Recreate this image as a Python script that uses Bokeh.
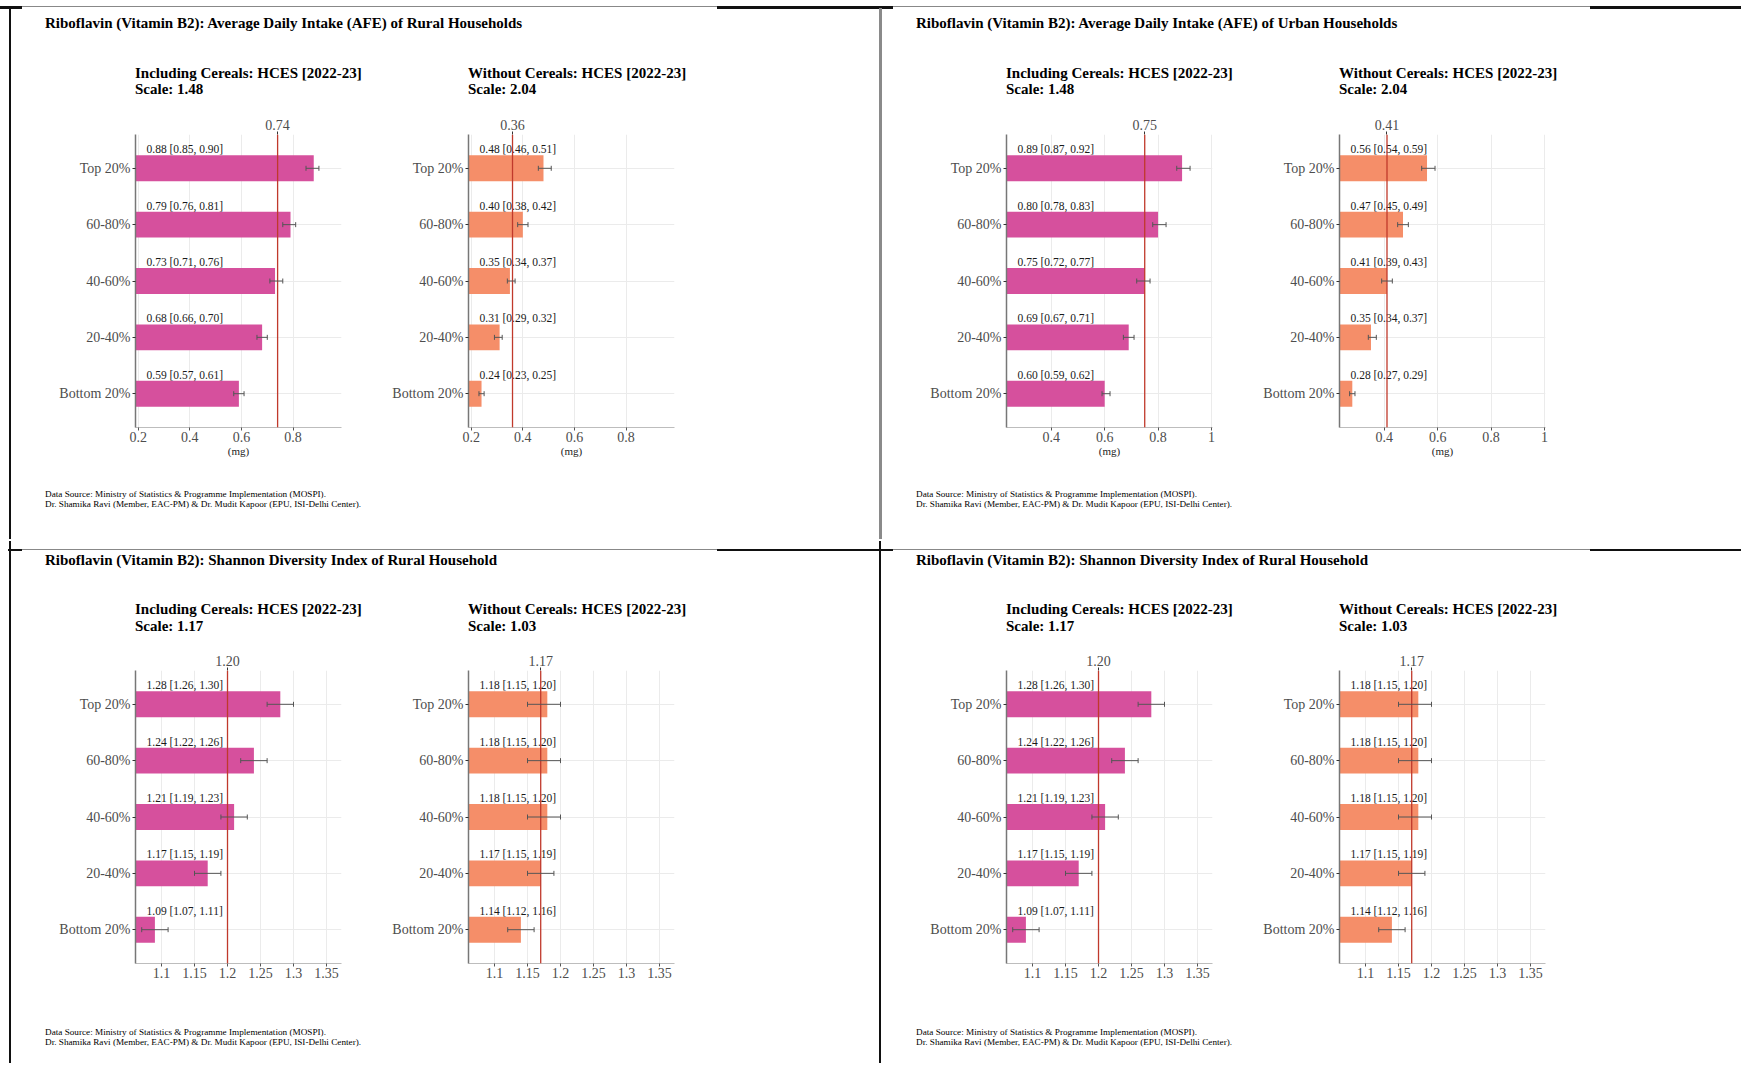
import html
from bokeh.plotting import figure
from bokeh.models import (FactorRange, Range1d, FixedTicker, LinearAxis, NumeralTickFormatter,
                          CustomJSTickFormatter, Span, Whisker, TeeHead, ColumnDataSource, Div)
from bokeh.layouts import row, column
from bokeh.core.properties import value
from bokeh.embed import file_html
from bokeh.resources import INLINE

# ---------------- data ----------------
categories = ["Bottom 20%", "20-40%", "40-60%", "60-80%", "Top 20%"]

rural_incl_val = [0.59, 0.68, 0.73, 0.79, 0.88]
rural_incl_lo = [0.57, 0.66, 0.71, 0.76, 0.85]
rural_incl_hi = [0.61, 0.70, 0.76, 0.81, 0.90]
rural_incl_mean = 0.74

rural_excl_val = [0.24, 0.31, 0.35, 0.40, 0.48]
rural_excl_lo = [0.23, 0.29, 0.34, 0.38, 0.46]
rural_excl_hi = [0.25, 0.32, 0.37, 0.42, 0.51]
rural_excl_mean = 0.36

urban_incl_val = [0.60, 0.69, 0.75, 0.80, 0.89]
urban_incl_lo = [0.59, 0.67, 0.72, 0.78, 0.87]
urban_incl_hi = [0.62, 0.71, 0.77, 0.83, 0.92]
urban_incl_mean = 0.75

urban_excl_val = [0.28, 0.35, 0.41, 0.47, 0.56]
urban_excl_lo = [0.27, 0.34, 0.39, 0.45, 0.54]
urban_excl_hi = [0.29, 0.37, 0.43, 0.49, 0.59]
urban_excl_mean = 0.41

shannon_incl_val = [1.09, 1.17, 1.21, 1.24, 1.28]
shannon_incl_lo = [1.07, 1.15, 1.19, 1.22, 1.26]
shannon_incl_hi = [1.11, 1.19, 1.23, 1.26, 1.30]
shannon_incl_mean = 1.20

shannon_excl_val = [1.14, 1.17, 1.18, 1.18, 1.18]
shannon_excl_lo = [1.12, 1.15, 1.15, 1.15, 1.15]
shannon_excl_hi = [1.16, 1.19, 1.20, 1.20, 1.20]
shannon_excl_mean = 1.17

scale_afe = ["1.48", "2.04"]
scale_shannon = ["1.17", "1.03"]

rural_ticks = [0.2, 0.4, 0.6, 0.8]
rural_tick_labels = ["0.2", "0.4", "0.6", "0.8"]
urban_ticks = [0.4, 0.6, 0.8, 1.0]
urban_tick_labels = ["0.4", "0.6", "0.8", "1"]
shannon_ticks = [1.1, 1.15, 1.2, 1.25, 1.3, 1.35]
shannon_tick_labels = ["1.1", "1.15", "1.2", "1.25", "1.3", "1.35"]

title_rural = "Riboflavin (Vitamin B2): Average Daily Intake (AFE) of Rural Households"
title_urban = "Riboflavin (Vitamin B2): Average Daily Intake (AFE) of Urban Households"
title_shannon = "Riboflavin (Vitamin B2): Shannon Diversity Index of Rural Household"
sub_incl = "Including Cereals: HCES [2022-23]"
sub_excl = "Without Cereals: HCES [2022-23]"
foot1 = "Data Source: Ministry of Statistics & Programme Implementation (MOSPI)."
foot2 = "Dr. Shamika Ravi (Member, EAC-PM) & Dr. Mudit Kapoor (EPU, ISI-Delhi Center)."

# ---------------- style ----------------
SERIF = "Liberation Serif"
INCL_COLOR = "#D6509D"
EXCL_COLOR = "#F58E69"
MEAN_COLOR = "#C0392B"
TICK_COLOR = "#4d4d4d"

RURAL_X = (0.1895, 0.9875)
URBAN_X = (0.232, 1.004)
SHANNON_X = (1.0606, 1.3727)


def text_block(w, h, items):
    parts = []
    for (x, cy, txt, fs, bold) in items:
        lh = round(fs * 1.2)
        parts.append(
            f'<div style="position:absolute;left:{x}px;top:{cy - lh / 2:.1f}px;height:{lh}px;'
            f'line-height:{lh}px;font-family:\'{SERIF}\';font-size:{fs}px;'
            f'font-weight:{"bold" if bold else "normal"};color:#000;white-space:nowrap;'
            f'margin:0;padding:0">{html.escape(txt)}</div>')
    inner = (f'<div style="position:relative;width:{w}px;height:{h}px;margin:0;padding:0;overflow:visible">'
             + "".join(parts) + '</div>')
    return Div(text=inner, width=w, height=h, margin=0)


def color_box(w, h, items):
    parts = []
    for (x, y, ww, hh, c) in items:
        parts.append(f'<div style="position:absolute;left:{x}px;top:{y}px;width:{ww}px;height:{hh}px;background:{c}"></div>')
    inner = f'<div style="position:relative;width:{w}px;height:{h}px;margin:0;padding:0">' + "".join(parts) + '</div>'
    return Div(text=inner, width=w, height=h, margin=0)


def panel(vals, lo, hi, mean, xr, ticks, tick_labels, color, xlabel, first, right_border, bottom_border):
    src = ColumnDataSource(dict(
        cat=categories, val=vals, lo=lo, hi=hi,
        lab=[f"{v:.2f} [{a:.2f}, {b:.2f}]" for v, a, b in zip(vals, lo, hi)]))
    p = figure(y_range=FactorRange(factors=categories, range_padding=0.1, range_padding_units="absolute"),
               x_range=Range1d(xr[0], xr[1]), frame_width=206, frame_height=293,
               min_border_left=124 if first else 90, min_border_right=right_border,
               min_border_top=24, min_border_bottom=bottom_border,
               output_backend="svg", toolbar_location=None, tools="", margin=0)
    p.outline_line_color = None
    p.background_fill_color = "white"
    p.border_fill_color = "white"

    p.xgrid.grid_line_color = "#ebebeb"
    p.ygrid.grid_line_color = "#ebebeb"

    p.hbar(y="cat", left=0, right="val", height=0.46, source=src,
           fill_color=color, line_color=None)

    p.add_layout(Span(location=mean, dimension="height", line_color=MEAN_COLOR, line_width=1.3))

    p.add_layout(Whisker(base="cat", lower="lo", upper="hi", dimension="width", source=src,
                         level="annotation", line_color="#555555", line_width=1,
                         upper_head=TeeHead(size=5, line_color="#555555", line_width=1),
                         lower_head=TeeHead(size=5, line_color="#555555", line_width=1)))

    p.text(x=xr[0], y="cat", text="lab", source=src, x_offset=11, y_offset=-19,
           text_font=value(SERIF), text_font_size="11.5px", text_color="#1a1a1a",
           text_align="left", text_baseline="middle")

    xa = p.xaxis[0]
    xa.ticker = FixedTicker(ticks=ticks)
    xa.formatter = CustomJSTickFormatter(code="return String(Math.round(tick*1000)/1000)")
    xa.major_label_overrides = {t: l for t, l in zip(ticks, tick_labels)}
    xa.major_label_text_font = SERIF
    xa.major_label_text_font_size = "14px"
    xa.major_label_text_color = TICK_COLOR
    xa.major_label_standoff = 1
    xa.major_tick_out = 3
    xa.major_tick_in = 0
    xa.major_tick_line_color = "#555555"
    xa.minor_tick_line_color = None
    xa.axis_line_color = "#bdbdbd"
    if xlabel:
        xa.axis_label = xlabel
        xa.axis_label_text_font = SERIF
        xa.axis_label_text_font_size = "11px"
        xa.axis_label_text_font_style = "normal"
        xa.axis_label_text_color = "#222222"
        xa.axis_label_standoff = 0

    ya = p.yaxis[0]
    ya.major_label_text_font = SERIF
    ya.major_label_text_font_size = "14px"
    ya.major_label_text_color = TICK_COLOR
    ya.major_label_standoff = 2
    ya.major_tick_out = 3
    ya.major_tick_in = 0
    ya.major_tick_line_color = "#333333"
    ya.axis_line_color = "#777777"
    ya.axis_line_width = 1.5

    top = LinearAxis(ticker=FixedTicker(ticks=[mean]), formatter=NumeralTickFormatter(format="0.00"),
                     axis_line_color=None, major_tick_out=3, major_tick_in=0,
                     major_tick_line_color="#333333", minor_tick_line_color=None,
                     major_label_standoff=2, major_label_text_font=SERIF,
                     major_label_text_font_size="14px", major_label_text_color=TICK_COLOR)
    p.add_layout(top, "above")
    return p


def quadrant(width, header_h, footer_h, title, title_cy, sub_cy, scales, left_data, right_data,
             xr, ticks, tick_labels, xlabel, bottom_border, foot_cy):
    header = text_block(width, header_h, [
        (34, title_cy, title, 15, True),
        (124, sub_cy[0], sub_incl, 15, True),
        (124, sub_cy[1], "Scale: " + scales[0], 15, True),
        (457, sub_cy[0], sub_excl, 15, True),
        (457, sub_cy[1], "Scale: " + scales[1], 15, True),
    ])
    p1 = panel(*left_data, xr, ticks, tick_labels, INCL_COLOR, xlabel, True, 37, bottom_border)
    p2 = panel(*right_data, xr, ticks, tick_labels, EXCL_COLOR, xlabel, False,
               width - 367 - 296, bottom_border)
    footer = text_block(width, footer_h, [
        (34, foot_cy, foot1, 9.2, False),
        (34, foot_cy + 10, foot2, 9.2, False),
    ])
    return column(header, row(p1, p2, spacing=0), footer, spacing=0)


W_L, W_R = 868, 859
H_TOP, H_BOT = 531, 522
PAD = 8

q_tl = quadrant(W_L, 102, 70, title_rural, 15, (65, 81), scale_afe,
                (rural_incl_val, rural_incl_lo, rural_incl_hi, rural_incl_mean),
                (rural_excl_val, rural_excl_lo, rural_excl_hi, rural_excl_mean),
                RURAL_X, rural_ticks, rural_tick_labels, "(mg)", 42, 25.4)
q_tr = quadrant(W_R, 102, 70, title_urban, 15, (65, 81), scale_afe,
                (urban_incl_val, urban_incl_lo, urban_incl_hi, urban_incl_mean),
                (urban_excl_val, urban_excl_lo, urban_excl_hi, urban_excl_mean),
                URBAN_X, urban_ticks, urban_tick_labels, "(mg)", 42, 25.4)
q_bl = quadrant(W_L, 105, 70, title_shannon, 19, (68, 85), scale_shannon,
                (shannon_incl_val, shannon_incl_lo, shannon_incl_hi, shannon_incl_mean),
                (shannon_excl_val, shannon_excl_lo, shannon_excl_hi, shannon_excl_mean),
                SHANNON_X, shannon_ticks, shannon_tick_labels, None, 30, 39.3)
q_br = quadrant(W_R, 105, 70, title_shannon, 19, (68, 85), scale_shannon,
                (shannon_incl_val, shannon_incl_lo, shannon_incl_hi, shannon_incl_mean),
                (shannon_excl_val, shannon_excl_lo, shannon_excl_hi, shannon_excl_mean),
                SHANNON_X, shannon_ticks, shannon_tick_labels, None, 30, 39.3)

INNER_W = 3 + W_L + 3 + W_R
TOTAL_W = PAD + INNER_W


def hrule_items(y, offset):
    return [(0 + offset, y, 22, 3, "#111"), (22 + offset, y, 695, 1, "#888"),
            (717 + offset, y, 176, 3, "#111"), (893 + offset, y, 697, 1, "#888"),
            (1590 + offset, y, TOTAL_W - 1590 - offset, 3, "#111")]


top_pad = color_box(TOTAL_W, PAD, hrule_items(2, 0))
top_row = row(color_box(PAD, H_TOP, []), color_box(3, H_TOP, [(1, 0, 2, H_TOP, "#111")]), q_tl,
              color_box(3, H_TOP, [(0, 0, 3, H_TOP, "#8a8a8a")]), q_tr, spacing=0)
hline = row(color_box(PAD, 2, []),
            color_box(INNER_W, 2, [(x - PAD if x >= PAD else 0, 0, w - (PAD - x if x < PAD else 0), min(h, 2), c)
                                   for (x, _, w, h, c) in hrule_items(0, 0)]), spacing=0)
bot_row = row(color_box(PAD, H_BOT, []), color_box(3, H_BOT, [(1, 0, 2, H_BOT, "#111")]), q_bl,
              color_box(3, H_BOT, [(0, 0, 2, H_BOT, "#111")]), q_br, spacing=0)

page = column(top_pad, top_row, hline, bot_row, spacing=0)

open("out.html", "w").write(file_html(page, INLINE))
